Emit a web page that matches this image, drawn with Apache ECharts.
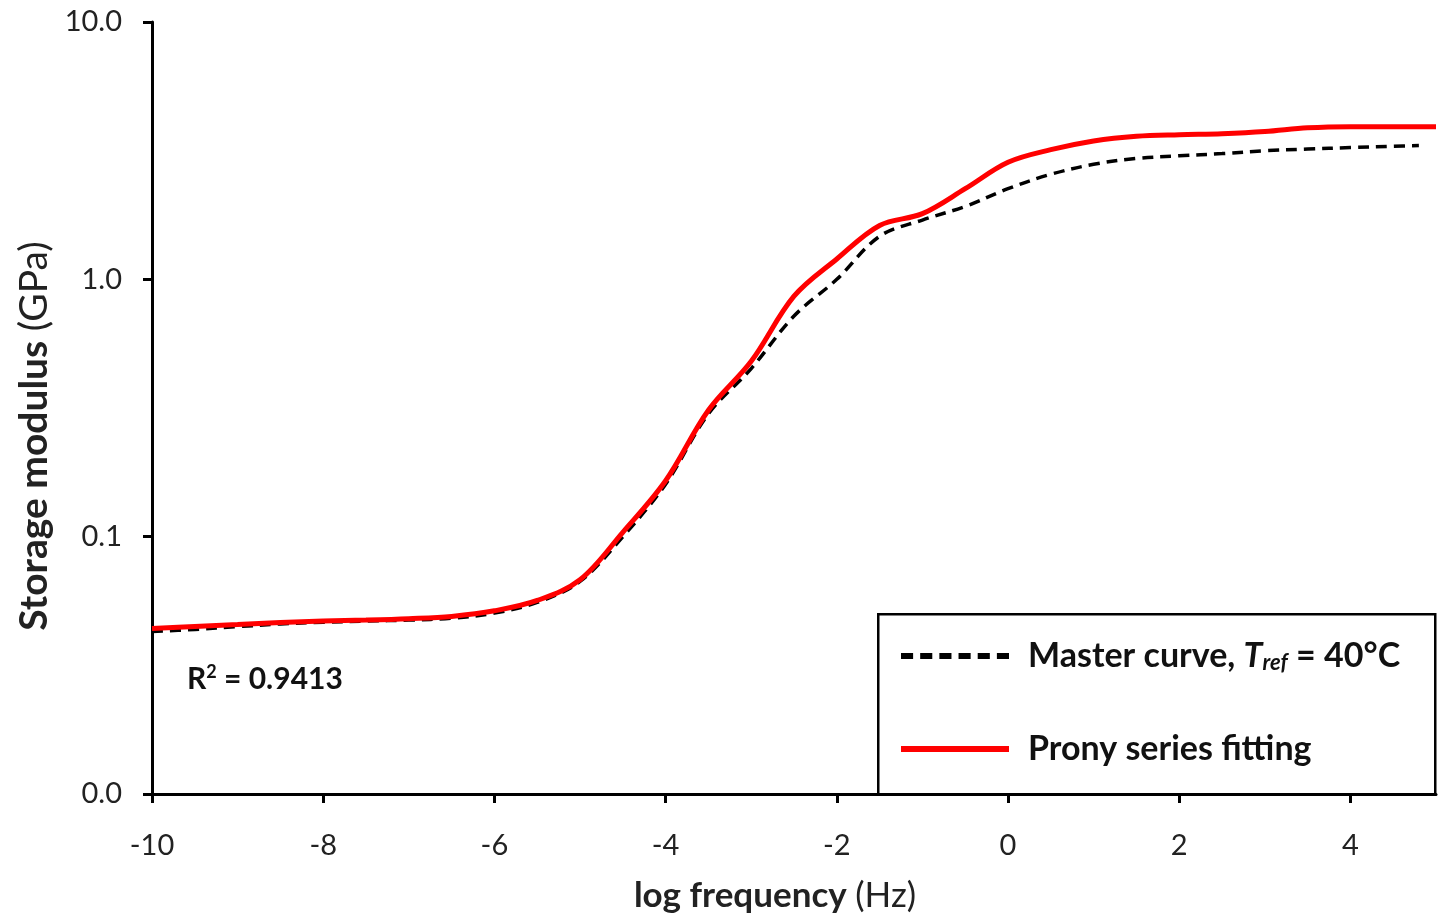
<!DOCTYPE html>
<html>
<head>
<meta charset="utf-8">
<script src="https://cdn.jsdelivr.net/npm/echarts@6/dist/echarts.min.js"></script>
<style>html,body{margin:0;padding:0;background:#fff;}#c{width:1443px;height:918px;}</style>
</head>
<body>
<div id="c"></div>
<script>
// log frequency (Hz)
const logFreq = [-10,-9.5,-9,-8.5,-8,-7.5,-7,-6.5,-6,-5.5,-5,-4.5,-4,-3.5,-3,-2.5,-2,-1.5,-1,-0.5,0,0.5,1,1.5,2,2.5,3,3.5,4,4.5,5];
// Storage modulus (GPa) - master curve (dashed), ends near 4.8
const masterLogFreq = [-10,-9.5,-9,-8.5,-8,-7.5,-7,-6.5,-6,-5.5,-5,-4.5,-4,-3.5,-3,-2.5,-2,-1.5,-1,-0.5,0,0.5,1,1.5,2,2.5,3,3.5,4,4.5,4.8];
const masterCurve = [0.0428,0.0436,0.0447,0.0458,0.0465,0.0470,0.0474,0.0482,0.0505,0.0555,0.0670,0.100,0.160,0.300,0.450,0.720,1.00,1.47,1.70,1.92,2.25,2.56,2.80,2.95,3.02,3.08,3.16,3.21,3.25,3.29,3.31];
// Prony series fitting (solid red)
const pronyFit = [0.0440,0.0448,0.0456,0.0464,0.0470,0.0474,0.0480,0.0490,0.0515,0.0565,0.0680,0.104,0.165,0.310,0.480,0.860,1.20,1.62,1.80,2.25,2.85,3.19,3.45,3.60,3.65,3.68,3.75,3.88,3.92,3.92,3.92];
const xTicks = [-10,-8,-6,-4,-2,0,2,4];

const FONT = 'Lato';
const chart = echarts.init(document.getElementById('c'));
chart.setOption({
  backgroundColor: '#fff',
  animation: false,
  grid: {left: 152, right: 7, top: 22, bottom: 122, containLabel: false},
  xAxis: {
    type: 'value', min: -10, max: 5, interval: 2,
    axisLine: {show: true, onZero: false, lineStyle: {color: '#000', width: 3}},
    axisTick: {show: true, inside: false, length: 9, lineStyle: {color: '#000', width: 3},
      customValues: xTicks},
    axisLabel: {fontFamily: FONT, fontSize: 29, color: '#222', margin: 37,
      customValues: xTicks, formatter: v => String(v)},
    splitLine: {show: false},
    name: '{b|log frequency }{n|(Hz)}',
    nameLocation: 'middle', nameGap: 84,
    nameTextStyle: {padding: [0, 38, 0, 0],
      rich: {b: {fontFamily: FONT, fontSize: 35, fontWeight: 'bold', color: '#222'},
             n: {fontFamily: FONT, fontSize: 35, color: '#222'}}}
  },
  yAxis: {
    type: 'log', logBase: 10, min: 0.01, max: 10,
    axisLine: {show: true, onZero: false, lineStyle: {color: '#000', width: 3}},
    axisTick: {show: true, inside: false, length: 9, lineStyle: {color: '#000', width: 3}},
    axisLabel: {fontFamily: FONT, fontSize: 29, color: '#222', margin: 30,
      formatter: v => Number(v).toFixed(1)},
    splitLine: {show: false},
    minorTick: {show: false},
    name: '{b|Storage modulus }{n|(GPa)}',
    nameLocation: 'middle', nameGap: 95,
    nameTextStyle: {padding: [0, 56, 0, 0],
      rich: {b: {fontFamily: FONT, fontSize: 39, fontWeight: 'bold', color: '#222'},
             n: {fontFamily: FONT, fontSize: 39, color: '#222'}}}
  },
  legend: {
    orient: 'vertical', left: 896, top: 634, itemGap: 58,
    itemWidth: 108, itemHeight: 6, symbolKeepAspect: false,
    textStyle: {fontFamily: FONT, fontSize: 34, fontWeight: 'bold', color: '#111', padding: [0, 0, 0, 14],
      rich: {
        t: {fontFamily: FONT, fontSize: 34, fontWeight: 'bold', color: '#111'},
        i: {fontFamily: FONT, fontSize: 34, fontWeight: 'bold', fontStyle: 'italic', color: '#111'},
        s: {fontFamily: FONT, fontSize: 22, fontWeight: 'bold', fontStyle: 'italic', color: '#111', verticalAlign: 'bottom', padding: [14, 0, 0, 0]}
      }},
    formatter: name => name === 'Master curve'
      ? '{t|Master curve, }{i|T}{s|ref}{t| = 40°C}'
      : '{t|' + name + '}',
    data: [
      {name: 'Master curve', icon: 'path://M0,0H12V6H0Z M19,0H31V6H19Z M38,0H50V6H38Z M57,0H69V6H57Z M76,0H88V6H76Z M95,0H107V6H95Z'},
      {name: 'Prony series fitting', icon: 'path://M0,0H108V7H0Z'}
    ]
  },
  graphic: [
    {type: 'rect', left: 877, top: 613, z: 0,
      shape: {width: 557, height: 180},
      style: {fill: '#fff', stroke: '#000', lineWidth: 2.5}},
    {type: 'text', left: 187, top: 663, z: 10,
      style: {text: '{r|R}{sup|2}{r| = 0.9413}',
        rich: {r: {fontFamily: FONT, fontSize: 30, fontWeight: 'bold', fill: '#111'},
               sup: {fontFamily: FONT, fontSize: 18, fontWeight: 'bold', fill: '#111', padding: [0,0,14,0]}}}}
  ],
  series: [
    {name: 'Master curve', type: 'line', z: 2,
      data: masterLogFreq.map((x, i) => [x, masterCurve[i]]),
      showSymbol: false, symbol: 'none', smooth: 0.35,
      lineStyle: {color: '#000', width: 3.5, type: [11, 7]},
      itemStyle: {color: '#000'}},
    {name: 'Prony series fitting', type: 'line', z: 3,
      data: logFreq.map((x, i) => [x, pronyFit[i]]),
      showSymbol: false, symbol: 'none', smooth: 0.35,
      lineStyle: {color: '#ff0000', width: 5},
      itemStyle: {color: '#ff0000'}}
  ]
});
</script>
</body>
</html>
